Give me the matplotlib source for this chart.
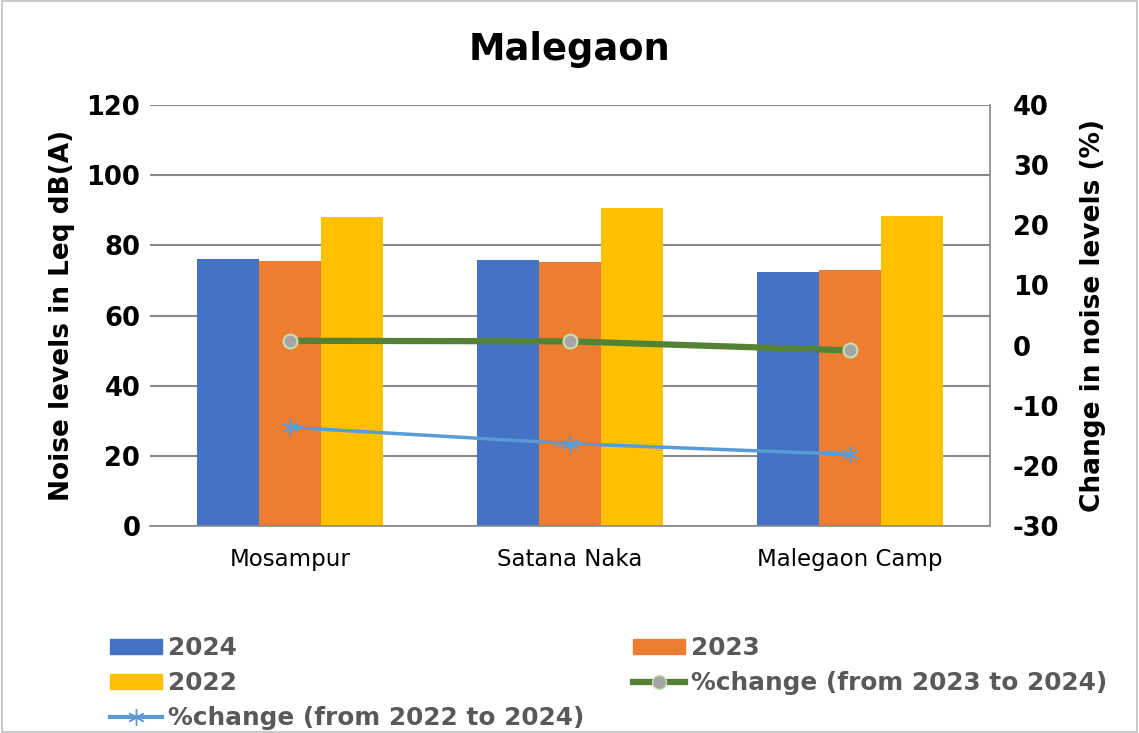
import matplotlib
matplotlib.use("Agg")
import matplotlib.pyplot as plt
from matplotlib.lines import Line2D
from matplotlib.patches import Patch, Rectangle
import numpy as np

# ---------------------------------------------------------------------------
# Data
# ---------------------------------------------------------------------------
sites = ["Mosampur", "Satana Naka", "Malegaon Camp"]
leq_2024 = [76.1, 75.8, 72.4]
leq_2023 = [75.5, 75.3, 73.0]
leq_2022 = [88.1, 90.6, 88.4]
pct_23_24 = [0.8, 0.7, -0.8]
pct_22_24 = [-13.6, -16.3, -18.1]

C_2024 = "#4472C4"
C_2023 = "#ED7D31"
C_2022 = "#FFC000"
C_G = "#548235"
C_B = "#5B9BD5"
TXT = "#595959"

plt.rcParams["font.family"] = ["DejaVu Sans"]
plt.rcParams["axes.unicode_minus"] = False

fig = plt.figure(figsize=(11.39, 7.33), dpi=100)
fig.patches.append(Rectangle((0.002, 0.002), 0.996, 0.996, transform=fig.transFigure,
                             fill=False, edgecolor="#BFBFBF", linewidth=1.2))

ax = fig.add_axes([150 / 1139, 207 / 733, 840 / 1139, 421 / 733])
x = np.arange(len(sites))
w = 0.221
ax.bar(x - w, leq_2024, w, color=C_2024, zorder=2)
ax.bar(x, leq_2023, w, color=C_2023, zorder=2)
ax.bar(x + w, leq_2022, w, color=C_2022, zorder=2)

ax.set_xlim(-0.5, len(sites) - 0.5)
ax.set_ylim(0, 120)
ax.set_yticks(np.arange(0, 121, 20))
ax.yaxis.grid(True, color="#898989", linewidth=1.5, zorder=0)
ax.set_axisbelow(True)
for s in ["top", "right", "left"]:
    ax.spines[s].set_visible(False)
ax.spines["bottom"].set_color("#898989")
ax.spines["bottom"].set_linewidth(1.2)
ax.tick_params(axis="y", length=0, pad=7, labelsize=18.5)
ax.tick_params(axis="x", length=0, pad=16, labelsize=16.5)
for lab in ax.get_yticklabels():
    lab.set_fontweight("bold")
ax.set_xticks(x)
ax.set_xticklabels(sites)
ax.set_ylabel("Noise levels in Leq dB(A)", fontsize=19, fontweight="bold", labelpad=8)

# Percent change lines on the secondary axis
ax2 = ax.twinx()
ax2.set_ylim(-30, 40)
ax2.set_yticks(np.arange(-30, 41, 10))
ax2.plot(x, pct_23_24, color=C_G, linewidth=4.5, marker="o", markersize=10,
         markerfacecolor="#A5A5A5", markeredgecolor="#C5E0B4", markeredgewidth=1.5, zorder=3)
ax2.plot(x, pct_22_24, color=C_B, linewidth=2.5, marker=(6, 2, 0), markersize=12,
         markeredgecolor=C_B, markeredgewidth=1.2, zorder=3)
for s in ["top", "left", "bottom"]:
    ax2.spines[s].set_visible(False)
ax2.spines["right"].set_color("#898989")
ax2.spines["right"].set_linewidth(1.2)
ax2.tick_params(axis="y", length=0, pad=16.5, labelsize=18.5)
for lab in ax2.get_yticklabels():
    lab.set_fontweight("bold")
ax2.set_ylabel("Change in noise levels (%)", fontsize=19, fontweight="bold", labelpad=15)

fig.text((150 + 990) / 2 / 1139, 1 - 50 / 733, "Malegaon", ha="center", va="center",
         fontsize=26.5, fontweight="bold")

handles = [
    Patch(color=C_2024, label="2024"),
    Patch(color=C_2022, label="2022"),
    Line2D([], [], color=C_B, linewidth=3, marker=(6, 2, 0), markersize=12,
           markeredgecolor=C_B, label="%change (from 2022 to 2024)"),
    Patch(color=C_2023, label="2023"),
    Line2D([], [], color=C_G, linewidth=4.5, marker="o", markersize=10,
           markerfacecolor="#A5A5A5", markeredgecolor="#C5E0B4",
           label="%change (from 2023 to 2024)"),
]
leg = fig.legend(handles=handles, ncol=2, loc="upper left",
                 bbox_to_anchor=(110 / 1139, 1 - 636 / 733), frameon=False,
                 borderpad=0, borderaxespad=0,
                 prop={"size": 17.8, "weight": "bold"}, handlelength=2.1,
                 handleheight=0.55, columnspacing=1.95, labelspacing=0.45,
                 handletextpad=0.25)
for t in leg.get_texts():
    t.set_color(TXT)

fig.savefig("out.png", dpi=100)
